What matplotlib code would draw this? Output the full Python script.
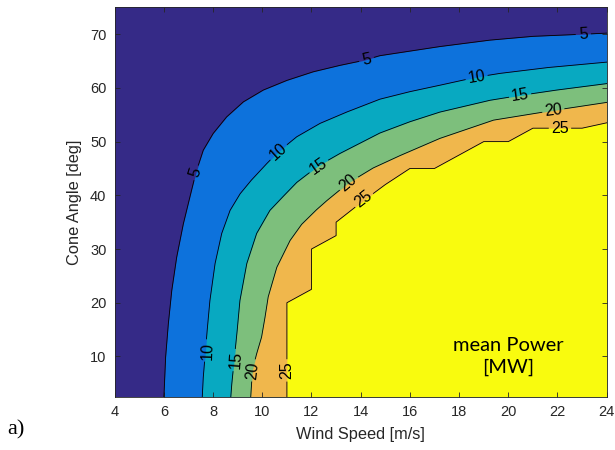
import numpy as np
import matplotlib
matplotlib.use("Agg")
import matplotlib.pyplot as plt
from matplotlib.path import Path

plt.rcParams['font.family'] = ['Liberation Sans', 'DejaVu Sans']

# contour lines of mean power (wind speed, cone angle)
levels = [5, 10, 15, 20, 25]

wind_5 = [6.0, 6.07, 6.18, 6.32, 6.52, 6.79, 7.1, 7.3, 7.6, 8.0, 8.55, 9.23, 10.04, 11.0,
          12.07, 13.16, 14.1, 14.78, 17.22, 19.26, 21.0, 23.05, 24.0]
cone_5 = [2.5, 9.9, 16.1, 22.3, 28.5, 34.7, 40.5, 44.2, 48.4, 51.5, 54.6, 57.4, 59.6, 61.4,
          63.0, 64.2, 65.1, 66.0, 67.7, 68.9, 69.6, 70.0, 70.2]

wind_10 = [7.56, 7.6, 7.76, 7.87, 8.08, 8.35, 8.69, 9.1, 9.55, 10.18, 10.65, 11.4, 12.35,
           13.43, 14.78, 16.0, 17.22, 18.71, 19.66, 21.63, 24.0]
cone_10 = [2.5, 6.1, 14.9, 20.4, 27.3, 32.9, 37.2, 40.3, 42.8, 45.9, 48.1, 50.9, 53.4,
           55.5, 57.9, 59.3, 60.5, 62.0, 62.7, 63.8, 64.8]

wind_15 = [8.72, 8.76, 8.98, 9.09, 9.37, 9.77, 10.31, 10.85, 11.4, 12.28, 13.16, 13.97,
           14.78, 16.0, 17.22, 19.26, 20.48, 21.97, 24.0]
cone_15 = [2.5, 4.9, 14.9, 20.4, 27.3, 32.9, 37.2, 39.8, 42.4, 45.5, 47.8, 49.7,
           51.6, 53.7, 55.5, 57.7, 58.6, 59.6, 60.8]

wind_20 = [9.53, 9.6, 9.77, 9.97, 10.11, 10.24, 10.59, 11.13, 11.6, 12.2, 12.62, 13.5,
           14.51, 15.6, 17.22, 19.4, 21.83, 24.0]
cone_20 = [2.5, 7.5, 10.5, 13.6, 17.3, 21.1, 26.6, 31.6, 34.6, 37.3, 39.0, 42.3,
           45.1, 47.4, 50.6, 54.0, 55.8, 57.3]

wind_25 = [11, 11, 12, 12, 13, 13, 14, 15, 16, 17, 19, 20, 21, 23, 24]
cone_25 = [2.5, 20, 22.5, 30, 32.5, 35, 38.6, 42.0, 45, 45, 50, 50, 52.5, 52.5, 53.5]

curves = [(wind_5, cone_5), (wind_10, cone_10), (wind_15, cone_15),
          (wind_20, cone_20), (wind_25, cone_25)]

# contour label positions (wind, cone, rotation)
labels_5 = [(7.3, 44.2, 72), (14.24, 65.2, 12), (23.05, 70.0, 3)]
labels_10 = [(7.76, 11.1, 88), (10.65, 48.1, 42), (18.71, 62.0, 9)]
labels_15 = [(8.93, 9.3, 86), (12.28, 45.5, 35), (20.48, 58.6, 8)]
labels_20 = [(9.63, 7.4, 84), (13.5, 42.3, 40), (21.83, 55.8, 7)]
labels_25 = [(10.99, 7.4, 90), (14.1, 39.3, 38), (22.1, 52.5, 0)]
all_labels = [labels_5, labels_10, labels_15, labels_20, labels_25]

colors = ['#352A87', '#0D72DC', '#08A9C1', '#7DBF7C', '#F0B74C', '#F9FB0E']

fig = plt.figure(figsize=(6.15, 4.5), dpi=100)
ax = fig.add_axes([0.1865, 0.1184, 0.8, 0.8653])
ax.set_xlim(4, 24)
ax.set_ylim(2.5, 75)
ax.set_facecolor(colors[0])

# paint bands from low to high power
for i, (w, c) in enumerate(curves):
    ax.fill_between(w, 2.5, c, color=colors[i + 1], lw=0, zorder=1)

# holes in the lines where the labels sit
fig.canvas.draw()
inv = ax.transData.inverted()
verts = [(3, 0), (25, 0), (25, 80), (3, 80), (3, 0)]
codes = [Path.MOVETO, Path.LINETO, Path.LINETO, Path.LINETO, Path.CLOSEPOLY]
for lev, labs in zip(levels, all_labels):
    half_w = 4 + 3.6 * len(str(lev))
    half_h = 7.5
    for (x, y, r) in labs:
        cx, cy = ax.transData.transform((x, y))
        t = np.deg2rad(r)
        corners = []
        for (dx, dy) in [(-half_w, -half_h), (-half_w, half_h), (half_w, half_h), (half_w, -half_h)]:
            px = cx + dx * np.cos(t) - dy * np.sin(t)
            py = cy + dx * np.sin(t) + dy * np.cos(t)
            corners.append(inv.transform((px, py)))
        corners.append(corners[0])
        verts += [tuple(p) for p in corners]
        codes += [Path.MOVETO, Path.LINETO, Path.LINETO, Path.LINETO, Path.CLOSEPOLY]
hole_path = Path(verts, codes)

for (w, c) in curves:
    line, = ax.plot(w, c, color='k', lw=0.6, zorder=2)
    line.set_clip_path(hole_path, ax.transData)

for lev, labs in zip(levels, all_labels):
    for (x, y, r) in labs:
        ax.text(x, y, str(lev), rotation=r, ha='center', va='center',
                rotation_mode='anchor', fontsize=11.5, color='k', zorder=3)

ax.text(20, 10, 'mean Power\n[MW]', ha='center', va='center', fontsize=14.5,
        family=['Lato', 'DejaVu Sans'], linespacing=1.3, zorder=3)

ax.set_xticks(np.arange(4, 25, 2))
ax.set_yticks(np.arange(10, 71, 10))
ax.tick_params(direction='in', length=3.6, width=0.6, top=True, right=True,
               colors='#262626', labelsize=10.5, pad=6)
for s in ax.spines.values():
    s.set_color('#262626')
    s.set_linewidth(0.6)
    s.set_zorder(4)
ax.set_xlabel('Wind Speed [m/s]', fontsize=11.8, color='#262626', labelpad=6)
ax.set_ylabel('Cone Angle [deg]', fontsize=11.8, color='#262626', labelpad=6)

fig.text(0.012, 0.035, 'a)', fontsize=16, family=['Liberation Serif', 'DejaVu Serif'])

fig.savefig('out.png', dpi=100)
